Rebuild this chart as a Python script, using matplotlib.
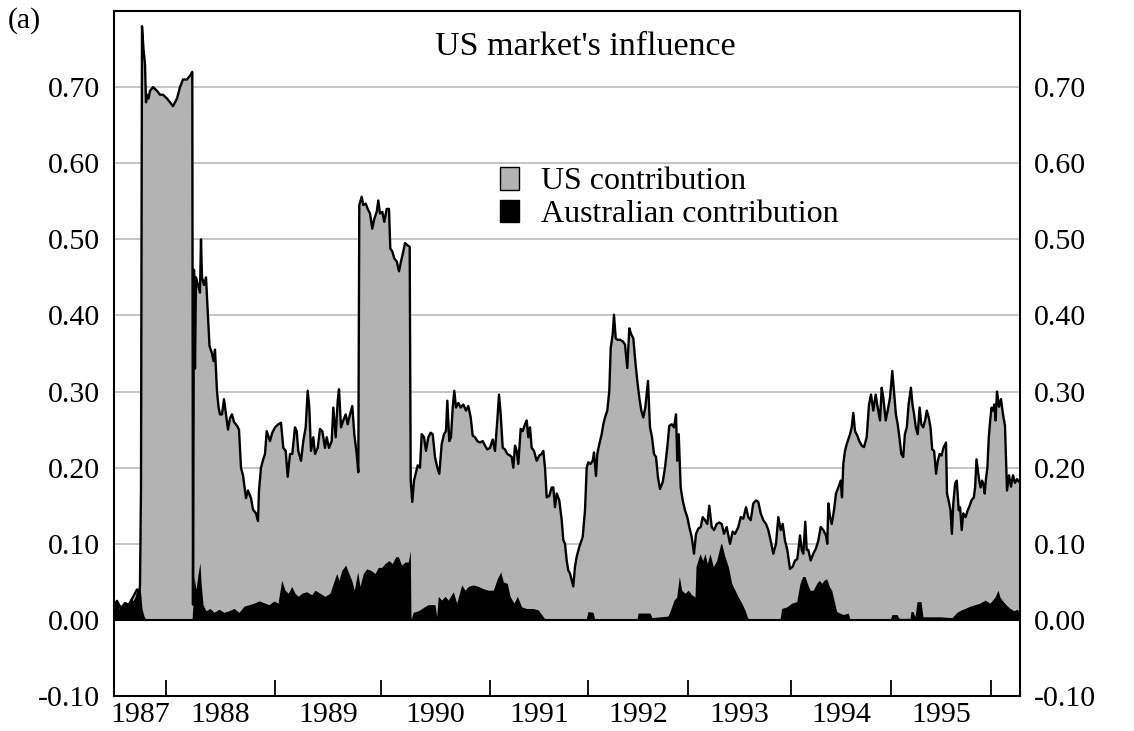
import matplotlib
matplotlib.use("Agg")
import matplotlib.pyplot as plt
from matplotlib.patches import Patch

plt.rcParams['font.family'] = ['Liberation Serif', 'DejaVu Serif']

# x = observation number (about two observations a week, from mid-1987)
us_obs = [0, 3, 7, 11, 15, 19, 23, 25, 26, 27, 28, 29.5, 31, 32, 33, 34.5, 36, 39, 43, 46, 49, 53, 56, 59, 63, 66, 69, 73, 76, 78.3,
          79, 80, 81, 82, 84, 86, 87, 88, 90, 92, 94, 95.5, 98, 99.5, 101, 103, 104.5, 106, 108, 110, 112, 114, 116, 118, 120, 123, 125,
          127, 129, 132, 134, 137, 139, 142, 144, 145, 147, 149, 151, 152.7, 156, 158.3, 161, 164.3, 167, 169.3, 171.7, 173.7, 176,
          178.3, 181, 182.7, 184.3, 187, 189.3, 191.7, 193.7, 195.3, 197, 199.3, 201, 203.7, 206, 208.3, 211, 212.7, 215, 217.7,
          219.3, 221.7, 223.7, 225, 227, 229.3, 231.7, 233.7, 236, 238.3, 240.3, 242.7, 244.3, 245.3, 247.7, 249.3, 251.7, 253.7,
          256, 258.3, 260.3, 262.7, 264.3, 266, 268.3, 270.3, 272.7, 275, 276.3, 278.3, 280.3, 282.7, 285, 287, 289.3, 291, 293.7,
          295.7, 296.7, 298.3, 300, 301.7, 303.7, 306, 307.7, 310, 312, 314.3, 316.7, 318.7, 321, 323.3, 325.3, 327.7, 330, 332,
          333.3, 335.3, 337, 338.7, 340.3, 342, 344.3, 346.7, 349.3, 352, 354.3, 356.7, 358.7, 361, 363.3, 366, 368.7, 371, 373.3,
          376, 378.7, 381, 383.3, 385, 386.7, 388.7, 391, 393.3, 396, 397.7, 399.3, 401, 402.7, 404.3, 406.7, 408.7, 411, 412.7,
          414.3, 416, 417.7, 420, 422.7, 425.3, 427.7, 429.3, 431, 432.7, 435.3, 437.7, 439.3, 441, 442.7, 445.3, 447.7, 449.3, 451,
          452.7, 454.3, 456, 457.7, 459.3, 461, 462.7, 465.3, 468.7, 471, 472.7, 474.3, 476.7, 478.7, 480, 482, 483.3, 485.3,
          487.7, 489.3, 491, 493.3, 495.3, 496.7, 498.7, 500, 501.7, 503.3, 506, 508.7, 511, 513.3, 515.3, 517.3, 519.3, 521.3,
          523.3, 525.3, 527.3, 529.3, 531.3, 534, 536, 538, 540, 542, 544, 546, 548.7, 551, 553.3, 555.3, 557.7, 560, 562, 563.3,
          564.7, 566.7, 568.7, 571, 573.3, 575.3, 577.7, 580, 582, 584.3, 586.7, 588.7, 591, 593.3, 595.3, 597.7, 600, 602.7,
          605.3, 607.7, 610, 612.7, 616, 618.7, 621, 624.3, 626.7, 629.3, 632, 634.3, 636.7, 639.3, 642, 644.3, 646.7, 649.3, 652,
          654.3, 656.7, 659.3, 662, 664.3, 666.7, 668.7, 671, 673.3, 676, 678.7, 681, 683.3, 686, 687.7, 689.3, 691.3, 692.7,
          694.3, 696.7, 699.3, 702, 704.3, 706.7, 709.3, 712, 713.3, 714.3, 716, 717.7, 720, 722, 724.3, 726.7, 728, 729.3, 731,
          732.7, 734.3, 736, 737.7, 739.3, 741, 743.3, 745.3, 747.7, 750, 752.7, 755, 757, 759.3, 761.7, 763.7, 766, 767.7, 769.3,
          771.7, 773.7, 776, 778.3,
          779.9, 781.9, 783.7, 785.4, 787.3, 789.2, 790.9, 792.8, 794.6, 796.9, 798.5, 800.1, 801.8, 803.7, 805.6, 807.3, 809.2,
          811.1, 812.8, 814.7, 816.5, 818.2, 820.1, 822.1, 823.8, 825.6, 827.5, 829.7, 832, 833, 834.6, 836.5, 837.9, 839.3,
          841.1, 842.8, 844.7, 846.1, 847.7, 849.3, 851.6, 853.7, 855.7, 857.5, 859.8, 861.1, 862.5, 863.9, 865.2, 866.6, 868,
          869.3, 870.7, 872.1, 873.4, 874.8, 876.2, 877.5, 878.9, 880.3, 881.6, 883, 885, 887, 889, 891, 893, 895, 897, 899, 901,
          903, 906]
us_val = [0.02, 0.025, 0.015, 0.022, 0.02, 0.03, 0.04, 0.035, 0.045, 0.175, 0.78, 0.75, 0.73, 0.68, 0.69, 0.685, 0.695, 0.70, 0.695,
          0.69, 0.69, 0.685, 0.68, 0.675, 0.685, 0.70, 0.71, 0.71, 0.715, 0.72,
          0.02, 0.46, 0.33, 0.45, 0.44, 0.43, 0.50, 0.45, 0.44, 0.45, 0.40, 0.36, 0.35, 0.34, 0.355, 0.30, 0.28, 0.27, 0.27, 0.29,
          0.27, 0.25, 0.265, 0.27, 0.26, 0.255, 0.25,
          0.20, 0.19, 0.16, 0.17, 0.16, 0.145, 0.14, 0.13, 0.17, 0.20, 0.21, 0.218, 0.248, 0.235, 0.246, 0.253, 0.257, 0.259,
          0.226, 0.222, 0.188, 0.218,
          0.218, 0.253, 0.248, 0.222, 0.209, 0.235, 0.253, 0.301, 0.279, 0.222, 0.240, 0.218, 0.226, 0.251, 0.248, 0.226, 0.240,
          0.226, 0.235,
          0.279, 0.240, 0.288, 0.303, 0.253, 0.262, 0.270, 0.257, 0.270, 0.281, 0.244, 0.218, 0.194, 0.545, 0.556, 0.545, 0.547,
          0.540,
          0.534, 0.514, 0.527, 0.536, 0.551, 0.534, 0.536, 0.523, 0.540, 0.540, 0.488, 0.484, 0.475, 0.471, 0.458, 0.471, 0.484,
          0.495, 0.492,
          0.490, 0.183, 0.155, 0.183, 0.192, 0.203, 0.20, 0.244, 0.24, 0.222, 0.24, 0.246, 0.244, 0.214, 0.20, 0.192, 0.231, 0.244,
          0.248,
          0.288, 0.235, 0.24, 0.279, 0.301, 0.279, 0.285, 0.279, 0.283, 0.275, 0.281, 0.266, 0.242, 0.24, 0.235, 0.233, 0.235,
          0.229, 0.224,
          0.226, 0.237, 0.222, 0.262, 0.296, 0.270, 0.226, 0.224, 0.218, 0.216, 0.214, 0.20, 0.229, 0.222, 0.205, 0.251, 0.248,
          0.257, 0.262,
          0.24, 0.253, 0.226, 0.222, 0.209, 0.216, 0.218, 0.222, 0.20, 0.161, 0.163, 0.174, 0.174, 0.148, 0.166, 0.157, 0.131,
          0.105, 0.100,
          0.078, 0.065, 0.061, 0.052, 0.044, 0.070, 0.083, 0.096, 0.109, 0.144, 0.20, 0.207, 0.205, 0.209, 0.220, 0.189, 0.218,
          0.231,
          0.244, 0.257, 0.266, 0.275, 0.301, 0.357, 0.375, 0.401, 0.370, 0.368, 0.368, 0.366, 0.362, 0.331, 0.383, 0.375, 0.370,
          0.340,
          0.314, 0.292, 0.275, 0.266, 0.279, 0.314, 0.253, 0.240, 0.218, 0.214, 0.187, 0.172, 0.181, 0.20, 0.227, 0.255, 0.257,
          0.253, 0.270, 0.209,
          0.244, 0.174, 0.157, 0.144, 0.135, 0.122, 0.109, 0.087, 0.113, 0.120, 0.122, 0.135, 0.131, 0.126, 0.150, 0.122, 0.118,
          0.126,
          0.128, 0.126, 0.113, 0.122, 0.10, 0.116, 0.113, 0.122, 0.135, 0.133, 0.148, 0.135, 0.131, 0.153, 0.157, 0.155, 0.140,
          0.131, 0.126,
          0.118, 0.104, 0.087, 0.10, 0.135, 0.118, 0.126, 0.104, 0.092, 0.067, 0.070, 0.078, 0.080, 0.111, 0.092, 0.087, 0.129,
          0.092,
          0.092, 0.078, 0.087, 0.094, 0.104, 0.122, 0.118, 0.111, 0.10, 0.153, 0.135, 0.126, 0.144, 0.166, 0.174, 0.183, 0.161,
          0.205, 0.222,
          0.231, 0.237, 0.244, 0.253, 0.272, 0.248, 0.242, 0.235, 0.229, 0.227, 0.240, 0.283, 0.296, 0.275, 0.296, 0.279, 0.262,
          0.305, 0.292,
          0.262, 0.275, 0.292, 0.327,
          0.301, 0.270, 0.257, 0.240, 0.218, 0.214, 0.244, 0.253, 0.283, 0.305, 0.283, 0.270, 0.253, 0.244, 0.279, 0.257, 0.253,
          0.262, 0.275, 0.266, 0.253, 0.224, 0.222, 0.192, 0.209, 0.218, 0.216, 0.227, 0.233, 0.166, 0.157, 0.144, 0.113, 0.153,
          0.179, 0.183, 0.144, 0.148, 0.118, 0.140, 0.135, 0.144, 0.150, 0.157, 0.161, 0.174, 0.211, 0.196, 0.183, 0.174, 0.183,
          0.179, 0.166, 0.187, 0.20, 0.240, 0.262, 0.279, 0.275, 0.283, 0.262, 0.30, 0.28, 0.29, 0.27, 0.255, 0.17, 0.19, 0.175,
          0.19, 0.18, 0.185, 0.18]

aus_obs = [0, 3, 5, 7, 9, 11, 13, 15, 17, 19, 21, 23, 25, 26, 27, 28, 30, 32, 78, 79, 80, 82, 84, 86, 87, 89, 92, 96, 100, 105,
           110, 115, 120, 125, 130, 135, 140, 145, 151, 155, 160, 164, 167.7, 171, 174.3, 177.7, 181, 184.3, 187.7, 192.7, 197.7,
           201, 206, 211, 216, 219.3, 222.7, 225, 227.7, 231.7, 234.3, 237.7, 240.3, 243.7, 246, 249.3, 252.7, 257, 261, 264.3,
           267.7, 271, 275, 278.3, 281.7, 284.3, 287.7, 291, 294.3, 296.3, 297, 299.3, 304.3, 310.3, 314, 321, 322.7, 324.3,
           327.7, 331, 334.3, 339.3, 342.7, 347.7, 351, 354.3, 359.3, 364.3, 369.3, 374.3, 379.3, 383.3, 386.7, 389.3, 393.3, 396,
           400, 403.3, 407.7, 412.7, 419.3, 424.3, 429.3, 432, 472, 474, 479, 481, 523, 524, 536, 538, 554, 556, 560, 562.7, 565.3,
           567.7, 571, 574.3, 577.7, 581, 582, 586, 588.7, 591, 593.3, 596, 599.3, 602.7, 606.7, 607.7, 611, 614.3, 617.7, 621,
           624.3, 627.7, 631, 633.3, 635, 666, 667.7, 672.7, 677.7, 682.7, 686, 688.7, 691, 693.3, 696, 699.3, 702.7, 705.3,
           707.7, 710, 712.7, 715.3, 717.7, 720, 722.7, 726, 729.3, 734.3, 736, 776, 778, 783, 785, 796, 797, 799, 801, 803, 807,
           809, 826, 838, 843, 847, 851, 856, 861, 866, 871, 876, 881, 884, 886, 888, 892, 896, 900, 903, 906]
aus_val = [0.02, 0.025, 0.015, 0.02, 0.018, 0.022, 0.02, 0.025, 0.03, 0.025, 0.03, 0.04, 0.035, 0.045, 0.03, 0.015, 0.005, 0.0,
           0.0, 0.02, 0.057, 0.04, 0.06, 0.075, 0.05, 0.02, 0.012, 0.015, 0.01, 0.014,
           0.01, 0.012, 0.015, 0.01, 0.018, 0.02, 0.022, 0.025, 0.022, 0.02, 0.025, 0.022, 0.052, 0.039, 0.035, 0.044, 0.035, 0.031,
           0.035, 0.037, 0.033,
           0.039, 0.035, 0.031, 0.035, 0.048, 0.061, 0.052, 0.065, 0.072, 0.063, 0.052, 0.039, 0.063, 0.044, 0.061, 0.067, 0.065,
           0.061, 0.069,
           0.069, 0.074, 0.078, 0.074, 0.083, 0.083, 0.072, 0.076, 0.076, 0.091, 0.001, 0.010, 0.012, 0.017, 0.02, 0.02, 0.004,
           0.031,
           0.026, 0.031, 0.026, 0.037, 0.022, 0.046, 0.039, 0.044, 0.046, 0.044, 0.041, 0.039, 0.039, 0.054, 0.063, 0.050, 0.048,
           0.031,
           0.022, 0.031, 0.017, 0.015, 0.015, 0.013, 0.004, 0.0, 0.0, 0.011, 0.01, 0.0, 0.0, 0.009, 0.009, 0.003, 0.005, 0.011,
           0.026, 0.030, 0.057,
           0.039, 0.035, 0.039, 0.033, 0.030, 0.070, 0.087, 0.078, 0.087, 0.074, 0.087, 0.070, 0.078, 0.100, 0.10, 0.083, 0.070,
           0.048, 0.039,
           0.030, 0.022, 0.013, 0.004, 0.0, 0.0, 0.015, 0.017, 0.022, 0.024, 0.048, 0.057, 0.057, 0.048, 0.039, 0.039, 0.048,
           0.052,
           0.048, 0.052, 0.054, 0.044, 0.039, 0.026, 0.011, 0.009, 0.007, 0.009, 0.0, 0.0, 0.007, 0.007, 0.002, 0.002, 0.011,
           0.011, 0.004, 0.024, 0.024,
           0.004, 0.004, 0.003, 0.01, 0.013, 0.015, 0.018, 0.02, 0.022, 0.026, 0.022, 0.03, 0.039, 0.03, 0.026, 0.02, 0.015,
           0.012, 0.014, 0.01]

year_start_obs = [52, 161, 267, 376, 474, 574, 677, 777, 877]
year_labels = ['1987', '1988', '1989', '1990', '1991', '1992', '1993', '1994', '1995']
obs_end = 906
y_ticks = [-0.10, 0.00, 0.10, 0.20, 0.30, 0.40, 0.50, 0.60, 0.70]
grid_levels = [0.10, 0.20, 0.30, 0.40, 0.50, 0.60, 0.70]

title = "US market's influence"
series_labels = ['US contribution', 'Australian contribution']

W, H = 1134, 731
fig = plt.figure(figsize=(W / 100, H / 100), dpi=100)
ax_left, ax_right, ax_top, ax_bottom = 114, 1020, 11, 696
ax = fig.add_axes([ax_left / W, (H - ax_bottom) / H, (ax_right - ax_left) / W, (ax_bottom - ax_top) / H])

gray = '#b3b3b3'
for g in grid_levels:
    ax.axhline(g, color='#c0c0c0', lw=1.3, zorder=1)
ax.fill_between(us_obs, 0, us_val, color=gray, lw=0, zorder=2)
ax.fill_between(aus_obs, 0, aus_val, color='black', lw=0, zorder=3)
ax.plot(us_obs, us_val, color='black', lw=1.7, zorder=4)
ax.axhline(0, color='black', lw=1.5, zorder=5)

ax.set_xlim(0, obs_end)
ax.set_ylim(-0.1, 0.8)

ax.set_yticks(y_ticks)
ax.set_yticklabels([f'{v:.2f}' for v in y_ticks])
ax.tick_params(axis='y', left=True, right=True, labelleft=True, labelright=True,
               length=0, pad=10, labelsize=21.5)

bounds = [0] + year_start_obs
mids = [(bounds[i] + bounds[i + 1]) / 2 for i in range(len(year_labels))]
ax.set_xticks(year_start_obs)
ax.set_xticklabels([])
ax.set_xticks(mids, minor=True)
ax.set_xticklabels(year_labels, minor=True)
ax.tick_params(axis='x', which='major', direction='in', length=11.5, width=1.3, color='black')
ax.tick_params(axis='x', which='minor', length=0, pad=4, labelsize=21.5)

for s in ax.spines.values():
    s.set_linewidth(1.5)
    s.set_color('black')

ax.text(0.52, 0.936, title, transform=ax.transAxes, ha='center', va='baseline', fontsize=24.5)
fig.text(8 / W, 1 - 21 / H, '(a)', ha='left', va='center', fontsize=21.5)

handles = [Patch(facecolor=gray, edgecolor='black', lw=1.0),
           Patch(facecolor='black', edgecolor='black', lw=1.0)]
ax.legend(handles, series_labels, loc='upper left', bbox_to_anchor=(0.426, 0.7725), frameon=False,
          fontsize=23, handlelength=0.6, handleheight=0.72, handletextpad=0.69, labelspacing=0.1,
          borderpad=0, borderaxespad=0)

fig.savefig('out.png', dpi=100, facecolor='white')
